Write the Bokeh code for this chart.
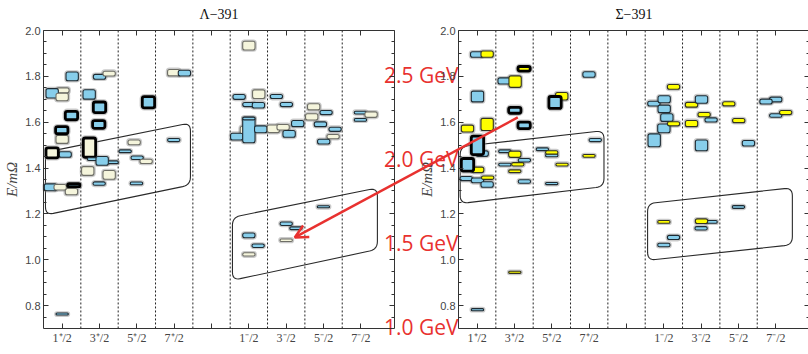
import math
from bokeh.plotting import figure
from bokeh.models import (LinearAxis, FixedTicker, Range1d, Arrow, OpenHead,
                          ColumnDataSource)
from bokeh.core.properties import value
from bokeh.embed import file_html
from bokeh.resources import INLINE

# ---------------- data ----------------
JP_TICKS = [1, 2, 3, 4, 5, 6, 7, 8, 9]
JP_LABELS = ["1⁺/2", "3⁺/2", "5⁺/2", "7⁺/2", "", "1⁻/2", "3⁻/2", "5⁻/2", "7⁻/2"]
JP_DIVIDERS = [1.5, 2.5, 3.5, 4.5, 5.5, 6.5, 7.5, 8.5]
Y_TICKS = [0.8, 1.0, 1.2, 1.4, 1.6, 1.8, 2.0]
Y_LABELS = ["0.8", "1.0", "1.2", "1.4", "1.6", "1.8", "2.0"]
Y_MINOR = [0.75, 0.85, 0.9, 0.95, 1.05, 1.1, 1.15, 1.25, 1.3, 1.35, 1.45, 1.5,
           1.55, 1.65, 1.7, 1.75, 1.85, 1.9, 1.95]
GEV_VALUES = [1.0, 1.5, 2.0, 2.5]
GEV_LABELS = ["1.0 GeV", "1.5 GeV", "2.0 GeV", "2.5 GeV"]
M_OMEGA = 1.366  # GeV, sets the red energy scale
TITLES = ["Λ−391", "Σ−391"]

# Lambda-391 panel: J^P slot position, E/m_Omega, box height, kind, bold
LAM_X = [1.268, 2.000, 2.258, 1.021, 0.732, 1.000, 1.723, 2.000, 3.311, 1.249,
         1.980, 1.000, 0.989, 1.731, 2.928, 1.080, 0.732, 2.687, 3.008, 3.249,
         1.838, 2.339, 2.071, 1.685, 2.258, 1.991, 2.989, 0.687, 1.249, 0.946,
         1.311, 3.988, 4.274, 3.988, 1.000,
         6.000, 5.739, 6.264, 6.000, 6.256, 5.934, 5.675, 6.000, 6.000, 6.317,
         6.738, 7.005, 6.657, 6.917, 7.078, 7.308, 7.736, 8.068, 7.683, 7.916,
         8.309, 8.256, 8.004, 8.987, 8.987, 9.273,
         6.000, 6.248, 6.000, 7.000, 7.260, 7.000, 7.996]
LAM_Y = [1.800, 1.798, 1.812, 1.739, 1.726, 1.710, 1.721, 1.665, 1.687, 1.629,
         1.590, 1.525, 1.565, 1.489, 1.512, 1.459, 1.466, 1.473, 1.445, 1.429,
         1.439, 1.425, 1.431, 1.387, 1.370, 1.332, 1.333, 1.316, 1.297, 1.316,
         1.325, 1.816, 1.814, 1.522, 0.763,
         1.934, 1.710, 1.722, 1.677, 1.674, 1.563, 1.537, 1.566, 1.616, 1.569,
         1.712, 1.677, 1.571, 1.578, 1.549, 1.594, 1.667, 1.642, 1.623, 1.591,
         1.569, 1.537, 1.515, 1.642, 1.610, 1.633,
         1.106, 1.061, 1.023, 1.157, 1.137, 1.085, 1.231]
LAM_H = [0.038, 0.021, 0.021, 0.021, 0.041, 0.033, 0.041, 0.046, 0.049, 0.037,
         0.034, 0.035, 0.031, 0.084, 0.021, 0.024, 0.043, 0.012, 0.015, 0.018,
         0.012, 0.012, 0.038, 0.038, 0.038, 0.015, 0.012, 0.030, 0.027, 0.024,
         0.013, 0.028, 0.025, 0.014, 0.009,
         0.038, 0.021, 0.038, 0.018, 0.024, 0.038, 0.030, 0.111, 0.012, 0.030,
         0.018, 0.018, 0.033, 0.024, 0.030, 0.027, 0.027, 0.018, 0.027, 0.021,
         0.018, 0.018, 0.021, 0.012, 0.012, 0.024,
         0.021, 0.015, 0.014, 0.015, 0.012, 0.011, 0.009]
LAM_KIND = ["b", "b", "c", "c", "b", "c", "b", "b", "b", "b",
            "b", "c", "b", "c", "c", "b", "c", "b", "b", "c",
            "b", "b", "b", "c", "c", "b", "b", "b", "c", "c",
            "b", "c", "b", "b", "b",
            "c", "b", "c", "b", "b", "c", "b", "b", "b", "b",
            "b", "b", "c", "c", "b", "b", "c", "b", "c", "b",
            "b", "c", "b", "b", "b", "c",
            "b", "b", "c", "b", "b", "c", "b"]
LAM_BOLD = [0, 0, 0, 0, 0, 0, 0, 1, 1, 1,
            1, 0, 1, 1, 0, 0, 1, 0, 0, 0,
            0, 0, 0, 0, 0, 0, 0, 0, 0, 0,
            1, 0, 0, 0, 0] + [0] * 26 + [0] * 7

# Sigma-391 panel
SIG_X = [0.987, 1.267, 1.008, 1.267, 0.741, 1.134, 1.008, 1.013, 0.741, 0.706,
         1.008, 1.281, 1.267, 1.008,
         2.257, 1.722, 2.016, 2.008, 2.257, 1.741, 2.008, 2.265, 1.741, 2.088,
         2.008, 2.265, 2.008,
         3.265, 3.086, 2.746, 2.997, 2.997, 2.997, 3.273, 3.995, 3.995, 4.163,
         6.259, 5.733, 6.008, 6.008, 6.080, 6.000, 6.259, 5.741,
         6.741, 7.008, 7.078, 7.265, 6.741, 7.008,
         7.738, 8.005, 8.265,
         8.995, 8.735, 8.995, 9.262,
         6.000, 6.259, 6.000, 7.265, 7.008, 6.997, 7.997]
SIG_Y = [1.895, 1.897, 1.712, 1.590, 1.572, 1.463, 1.499, 1.392, 1.414, 1.354,
         1.346, 1.358, 1.328, 0.782,
         1.833, 1.780, 1.777, 1.652, 1.586, 1.473, 1.460, 1.434, 1.415, 1.416,
         1.386, 1.341, 0.945,
         1.713, 1.686, 1.482, 1.455, 1.468, 1.332, 1.415, 1.808, 1.453, 1.522,
         1.754, 1.681, 1.700, 1.658, 1.620, 1.573, 1.593, 1.521,
         1.676, 1.699, 1.633, 1.610, 1.594, 1.499,
         1.680, 1.607, 1.508,
         1.699, 1.690, 1.629, 1.642,
         1.165, 1.097, 1.064, 1.165, 1.168, 1.137, 1.230]
SIG_H = [0.024, 0.027, 0.047, 0.053, 0.030, 0.024, 0.081, 0.024, 0.055, 0.018,
         0.021, 0.015, 0.024, 0.009,
         0.020, 0.027, 0.050, 0.026, 0.028, 0.012, 0.027, 0.015, 0.012, 0.015,
         0.012, 0.015, 0.009,
         0.033, 0.052, 0.012, 0.012, 0.015, 0.009, 0.012, 0.024, 0.012, 0.014,
         0.021, 0.021, 0.030, 0.033, 0.033, 0.038, 0.018, 0.056,
         0.021, 0.033, 0.018, 0.018, 0.027, 0.047,
         0.018, 0.018, 0.024,
         0.021, 0.021, 0.015, 0.018,
         0.012, 0.018, 0.015, 0.012, 0.020, 0.015, 0.012]
SIG_KIND = ["b", "y", "b", "y", "y", "b", "b", "y", "b", "b",
            "b", "y", "b", "b",
            "y", "b", "y", "b", "b", "b", "y", "b", "b", "y",
            "y", "b", "y",
            "y", "b", "b", "b", "y", "b", "y", "b", "y", "b",
            "y", "b", "b", "b", "b", "b", "y", "b",
            "y", "b", "y", "b", "y", "b",
            "y", "y", "b",
            "b", "b", "b", "y",
            "y", "b", "b", "b", "y", "b", "b"]
SIG_BOLD = [0, 0, 0, 0, 0, 0, 1, 0, 1, 0, 0, 0, 0, 0,
            1, 0, 0, 1, 1, 0, 0, 0, 0, 0, 0, 0, 0,
            0, 1, 0, 0, 0, 0, 0, 0, 0, 0] + [0] * 28

# outlined groups (corners: J^P slot, E/m_Omega)
LAM_BOX1_X = [0.553, 4.435, 4.435, 0.553]
LAM_BOX1_Y = [1.469, 1.597, 1.326, 1.195]
LAM_BOX2_X = [5.560, 9.442, 9.442, 5.560]
LAM_BOX2_Y = [1.185, 1.313, 1.045, 0.910]
SIG_BOX1_X = [0.545, 4.396, 4.396, 0.545]
SIG_BOX1_Y = [1.493, 1.563, 1.319, 1.245]
SIG_BOX2_X = [5.564, 9.441, 9.441, 5.564]
SIG_BOX2_Y = [1.245, 1.314, 1.065, 0.997]

# red arrow (Sigma-panel coordinates): from a Sigma level to a Lambda level
ARROW_START = (2.088, 1.621)
ARROW_END = (-3.885, 1.097)

# ---------------- geometry / style ----------------
W, H = 808, 354
SX, SY = 37.34, 229.2          # px per unit (x slot, E/m)
Y0, Y1 = 0.7, 2.0
LAM_XLIM = (0.5, 9.9)
SIG_XLIM = (0.5, 9.9)
LAM_FRAME_LEFT = 43            # px from canvas left
SIG_FRAME_LEFT = 458
FRAME_TOP = 30

FILL = {"b": "#87CEEB", "c": "#F5F5DC", "y": "#FFFF00"}
EDGE = {"b": "#1e2b33", "c": "#6e6e66", "y": "#333322"}
RED = "#E8312F"
AXC = "#333333"
BOX_W = 0.33

y_top = Y1 + FRAME_TOP / SY
y_bot = y_top - H / SY
lam_x0 = LAM_XLIM[0] - LAM_FRAME_LEFT / SX
sig_x0 = SIG_XLIM[0] - SIG_FRAME_LEFT / SX

p = figure(width=W, height=H, output_backend="svg", toolbar_location=None,
           x_range=Range1d(lam_x0, lam_x0 + W / SX),
           y_range=Range1d(y_bot, y_top),
           x_axis_location=None, y_axis_location=None,
           min_border=0, min_border_left=0, min_border_right=0,
           min_border_top=0, min_border_bottom=0)
p.extra_x_ranges = {"sig": Range1d(sig_x0, sig_x0 + W / SX)}
p.title.visible = False
p.outline_line_color = None
p.grid.visible = False
p.background_fill_color = "white"
p.border_fill_color = "white"


def rounded(xs, ys, r=8.0, n=7):
    pts = [(x * SX, y * SY) for x, y in zip(xs, ys)]
    ox, oy = [], []
    N = len(pts)
    for i in range(N):
        p0, p1, p2 = pts[i - 1], pts[i], pts[(i + 1) % N]
        d1 = math.hypot(p0[0] - p1[0], p0[1] - p1[1])
        d2 = math.hypot(p2[0] - p1[0], p2[1] - p1[1])
        a = (p1[0] + (p0[0] - p1[0]) * r / d1, p1[1] + (p0[1] - p1[1]) * r / d1)
        b = (p1[0] + (p2[0] - p1[0]) * r / d2, p1[1] + (p2[1] - p1[1]) * r / d2)
        for k in range(n + 1):
            t = k / n
            ox.append(((1 - t) ** 2 * a[0] + 2 * (1 - t) * t * p1[0] + t ** 2 * b[0]) / SX)
            oy.append(((1 - t) ** 2 * a[1] + 2 * (1 - t) * t * p1[1] + t ** 2 * b[1]) / SY)
    return ox, oy


def panel(rname, xlim, title, X, Y, Hs, K, B, polys):
    xt = FixedTicker(ticks=JP_TICKS, minor_ticks=[])
    yt = FixedTicker(ticks=Y_TICKS, minor_ticks=Y_MINOR)
    common = dict(axis_line_color=AXC, axis_line_width=1,
                  major_tick_line_color=AXC, minor_tick_line_color=AXC)
    left = LinearAxis(x_range_name=rname, fixed_location=xlim[0],
                      bounds=(Y0, Y1), ticker=yt,
                      major_label_overrides=dict(zip(Y_TICKS, Y_LABELS)),
                      major_tick_in=5, major_tick_out=0,
                      minor_tick_in=3, minor_tick_out=0,
                      major_label_standoff=3,
                      major_label_text_font="Liberation Sans",
                      major_label_text_font_size="11px",
                      axis_label="E/mΩ", axis_label_standoff=2,
                      axis_label_text_font="Liberation Serif",
                      axis_label_text_font_style="italic",
                      axis_label_text_font_size="15px", **common)
    right = LinearAxis(x_range_name=rname, fixed_location=xlim[1],
                       bounds=(Y0, Y1), ticker=yt,
                       major_label_overrides={t: "" for t in Y_TICKS},
                       major_tick_in=5, major_tick_out=0,
                       minor_tick_in=3, minor_tick_out=0, **common)
    below = LinearAxis(x_range_name=rname, fixed_location=Y0,
                       bounds=xlim, ticker=xt,
                       major_label_overrides=dict(zip(JP_TICKS, JP_LABELS)),
                       major_tick_in=5, major_tick_out=0,
                       minor_tick_in=0, minor_tick_out=0,
                       major_label_standoff=3,
                       major_label_text_font="Liberation Serif",
                       major_label_text_font_size="12px", **common)
    above = LinearAxis(x_range_name=rname, fixed_location=Y1,
                       bounds=xlim, ticker=xt,
                       major_label_overrides={t: "" for t in JP_TICKS},
                       major_tick_in=5, major_tick_out=0,
                       minor_tick_in=0, minor_tick_out=0, **common)
    p.add_layout(left, "left")
    p.add_layout(right, "right")
    p.add_layout(below, "below")
    p.add_layout(above, "above")

    # J^P dividers
    p.segment(x0=JP_DIVIDERS, x1=JP_DIVIDERS, y0=[Y0] * len(JP_DIVIDERS),
              y1=[Y1] * len(JP_DIVIDERS), x_range_name=rname,
              line_color="#222222", line_dash="2 2", line_width=1)

    # title
    p.text(x=[(xlim[0] + xlim[1]) / 2], y=[Y1 + 16 / SY], text=[title],
           x_range_name=rname, text_align="center", text_baseline="middle",
           text_font=value("Liberation Serif"), text_font_size="14px",
           text_color="#111111")

    for (px, py) in polys:
        rx, ry = rounded(px, py)
        p.patch(rx, ry, fill_color=None, line_color="#2a2a2a",
                line_width=1.1, x_range_name=rname)

    lw = [2.8 if b else 1.1 for b in B]
    src = ColumnDataSource(dict(
        left=[x - BOX_W / 2 for x in X],
        right=[x + BOX_W / 2 for x in X],
        top=[y + h / 2 for y, h in zip(Y, Hs)],
        bottom=[y - h / 2 for y, h in zip(Y, Hs)],
        fill=[FILL[k] for k in K],
        edge=["#000000" if b else EDGE[k] for k, b in zip(K, B)],
        lw=lw,
        halo=[w + 2.6 for w in lw],
    ))
    p.quad(left="left", right="right", top="top", bottom="bottom", source=src,
           fill_color=None, line_color="#8a8a8a", line_alpha=0.45,
           line_width="halo", border_radius=2, x_range_name=rname)
    p.quad(left="left", right="right", top="top", bottom="bottom", source=src,
           fill_color="fill", line_color="edge", line_width="lw",
           border_radius=2, x_range_name=rname)


panel("default", LAM_XLIM, TITLES[0], LAM_X, LAM_Y, LAM_H, LAM_KIND, LAM_BOLD,
      [(LAM_BOX1_X, LAM_BOX1_Y), (LAM_BOX2_X, LAM_BOX2_Y)])
panel("sig", SIG_XLIM, TITLES[1], SIG_X, SIG_Y, SIG_H, SIG_KIND, SIG_BOLD,
      [(SIG_BOX1_X, SIG_BOX1_Y), (SIG_BOX2_X, SIG_BOX2_Y)])

# red energy labels (GeV), right-aligned on the Sigma panel's left edge
p.text(x=[SIG_XLIM[0]] * len(GEV_VALUES), y=[g / M_OMEGA for g in GEV_VALUES],
       text=GEV_LABELS, x_range_name="sig", text_align="right",
       text_baseline="middle", y_offset=6, text_color=RED,
       text_font=value("Open Sans"), text_font_size="21px")

p.add_layout(Arrow(x_start=ARROW_START[0], y_start=ARROW_START[1],
                   x_end=ARROW_END[0], y_end=ARROW_END[1], x_range_name="sig",
                   line_color=RED, line_width=2.5,
                   end=OpenHead(size=13, line_color=RED, line_width=2.5)))

open("out.html", "w").write(file_html(p, INLINE))
